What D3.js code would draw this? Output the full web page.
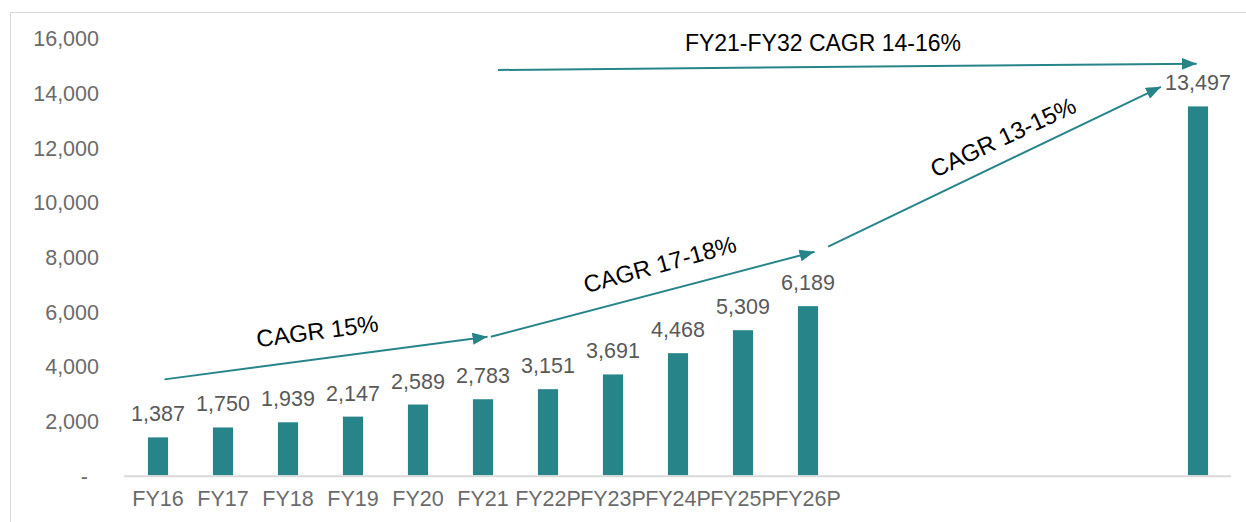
<!DOCTYPE html>
<html>
<head>
<meta charset="utf-8">
<script src="https://cdn.jsdelivr.net/npm/d3@7"></script>
<style>
  html, body { margin: 0; padding: 0; background: #fff; }
  svg { display: block; font-family: "Liberation Sans", Arial, sans-serif; }
</style>
</head>
<body>
<svg id="chart" width="1246" height="522"></svg>
<script>
// Fiscal years on the category axis (FY27P–FY31P are empty slots)
const categories = ["FY16","FY17","FY18","FY19","FY20","FY21","FY22P","FY23P","FY24P","FY25P","FY26P",
                    "FY27P","FY28P","FY29P","FY30P","FY31P","FY32P"];
// Text printed under each slot
const axisLabels = ["FY16","FY17","FY18","FY19","FY20","FY21","FY22P","FY23P","FY24P","FY25P","FY26P",
                    "","","","","",""];
// Values (null = no bar)
const values = [1387, 1750, 1939, 2147, 2589, 2783, 3151, 3691, 4468, 5309, 6189,
                null, null, null, null, null, 13497];
const yTicks = [0, 2000, 4000, 6000, 8000, 10000, 12000, 14000, 16000];

// Growth arrows: positions given as [category index, value]
const arrows = [
  { from: [0.10, 3510],  to: [5.07, 5070] },
  { from: [5.12, 5070],  to: [10.10, 8180] },
  { from: [10.31, 8365], to: [15.43, 14215] },
  { from: [5.23, 14830], to: [15.98, 15060] }
];
const notes = [
  { text: "CAGR 15%",              at: [2.45, 5290],  angle: -7.5,  size: 23.8 },
  { text: "CAGR 17-18%",           at: [7.72, 7730],  angle: -15.5, size: 23.8 },
  { text: "CAGR 13-15%",           at: [13.0, 12380], angle: -25,   size: 23.8 },
  { text: "FY21-FY32 CAGR 14-16%", at: [10.23, 15815], angle: 0,    size: 23 }
];

const svg = d3.select("#chart");
const teal = "#27858a";
const valueGray = "#595959";
const axisGray = "#6b6b6b";

const x = d3.scaleBand().domain(categories).range([125.5, 1230.5])
  .paddingInner(0.69).paddingOuter(0.345);
const y = d3.scaleLinear().domain([0, 16000]).range([475.3, 38]);

// fractional category index -> pixel
const fx = i => x(categories[0]) + x.bandwidth() / 2 + x.step() * i;

// outer frame
svg.append("rect")
  .attr("x", 10.5).attr("y", 12.5).attr("width", 1260).attr("height", 540)
  .attr("fill", "none").attr("stroke", "#d9d9d9").attr("stroke-width", 1);

// y axis labels
const yAxis = d3.axisLeft(y).tickValues(yTicks).tickSize(0).tickPadding(0)
  .tickFormat(d => d === 0 ? "-" : d3.format(",")(d));
const gy = svg.append("g").attr("transform", "translate(99,0)").call(yAxis);
gy.select(".domain").remove();
gy.selectAll("text")
  .attr("fill", axisGray).attr("font-size", 21.5).attr("font-family", null)
  .attr("dy", "0.36em")
  .attr("x", d => d === 0 ? -11 : 0);

// bars
svg.append("g").selectAll("rect")
  .data(categories.map((c, i) => ({ c, v: values[i] })).filter(d => d.v != null))
  .join("rect")
  .attr("x", d => x(d.c))
  .attr("width", x.bandwidth())
  .attr("y", d => y(d.v))
  .attr("height", d => y(0) - y(d.v))
  .attr("fill", teal);

// category axis
const xAxis = d3.axisBottom(x).tickSize(0).tickPadding(0)
  .tickFormat((d, i) => axisLabels[i]);
const gx = svg.append("g").attr("transform", `translate(0,${y(0)})`).call(xAxis);
gx.select(".domain").remove();
gx.selectAll("text")
  .attr("fill", axisGray).attr("font-size", 21.5).attr("font-family", null)
  .attr("y", 31).attr("dy", 0);
svg.append("line")
  .attr("x1", 124).attr("x2", 1231)
  .attr("y1", y(0) + 1).attr("y2", y(0) + 1)
  .attr("stroke", "#d9d9d9").attr("stroke-width", 2);

// value labels
svg.append("g").selectAll("text")
  .data(categories.map((c, i) => ({ c, v: values[i] })).filter(d => d.v != null))
  .join("text")
  .attr("x", d => x(d.c) + x.bandwidth() / 2)
  .attr("y", d => y(d.v) - 16)
  .attr("text-anchor", "middle")
  .attr("fill", valueGray).attr("font-size", 21.5)
  .text(d => d3.format(",")(d.v));

// arrowhead
svg.append("defs").append("marker")
  .attr("id", "head").attr("markerUnits", "userSpaceOnUse")
  .attr("viewBox", "0 0 15 12").attr("refX", 15).attr("refY", 6)
  .attr("markerWidth", 15).attr("markerHeight", 12).attr("orient", "auto")
  .append("path").attr("d", "M0,0 L15,6 L0,12 Z").attr("fill", teal);

svg.append("g").selectAll("line")
  .data(arrows)
  .join("line")
  .attr("x1", d => fx(d.from[0])).attr("y1", d => y(d.from[1]))
  .attr("x2", d => fx(d.to[0])).attr("y2", d => y(d.to[1]))
  .attr("stroke", teal).attr("stroke-width", 2)
  .attr("marker-end", "url(#head)");

// annotation texts
svg.append("g").selectAll("text")
  .data(notes)
  .join("text")
  .attr("transform", d => `translate(${fx(d.at[0])},${y(d.at[1])}) rotate(${d.angle})`)
  .attr("text-anchor", "middle").attr("dy", "0.36em")
  .attr("fill", "#000").attr("font-size", d => d.size)
  .text(d => d.text);
</script>
</body>
</html>
